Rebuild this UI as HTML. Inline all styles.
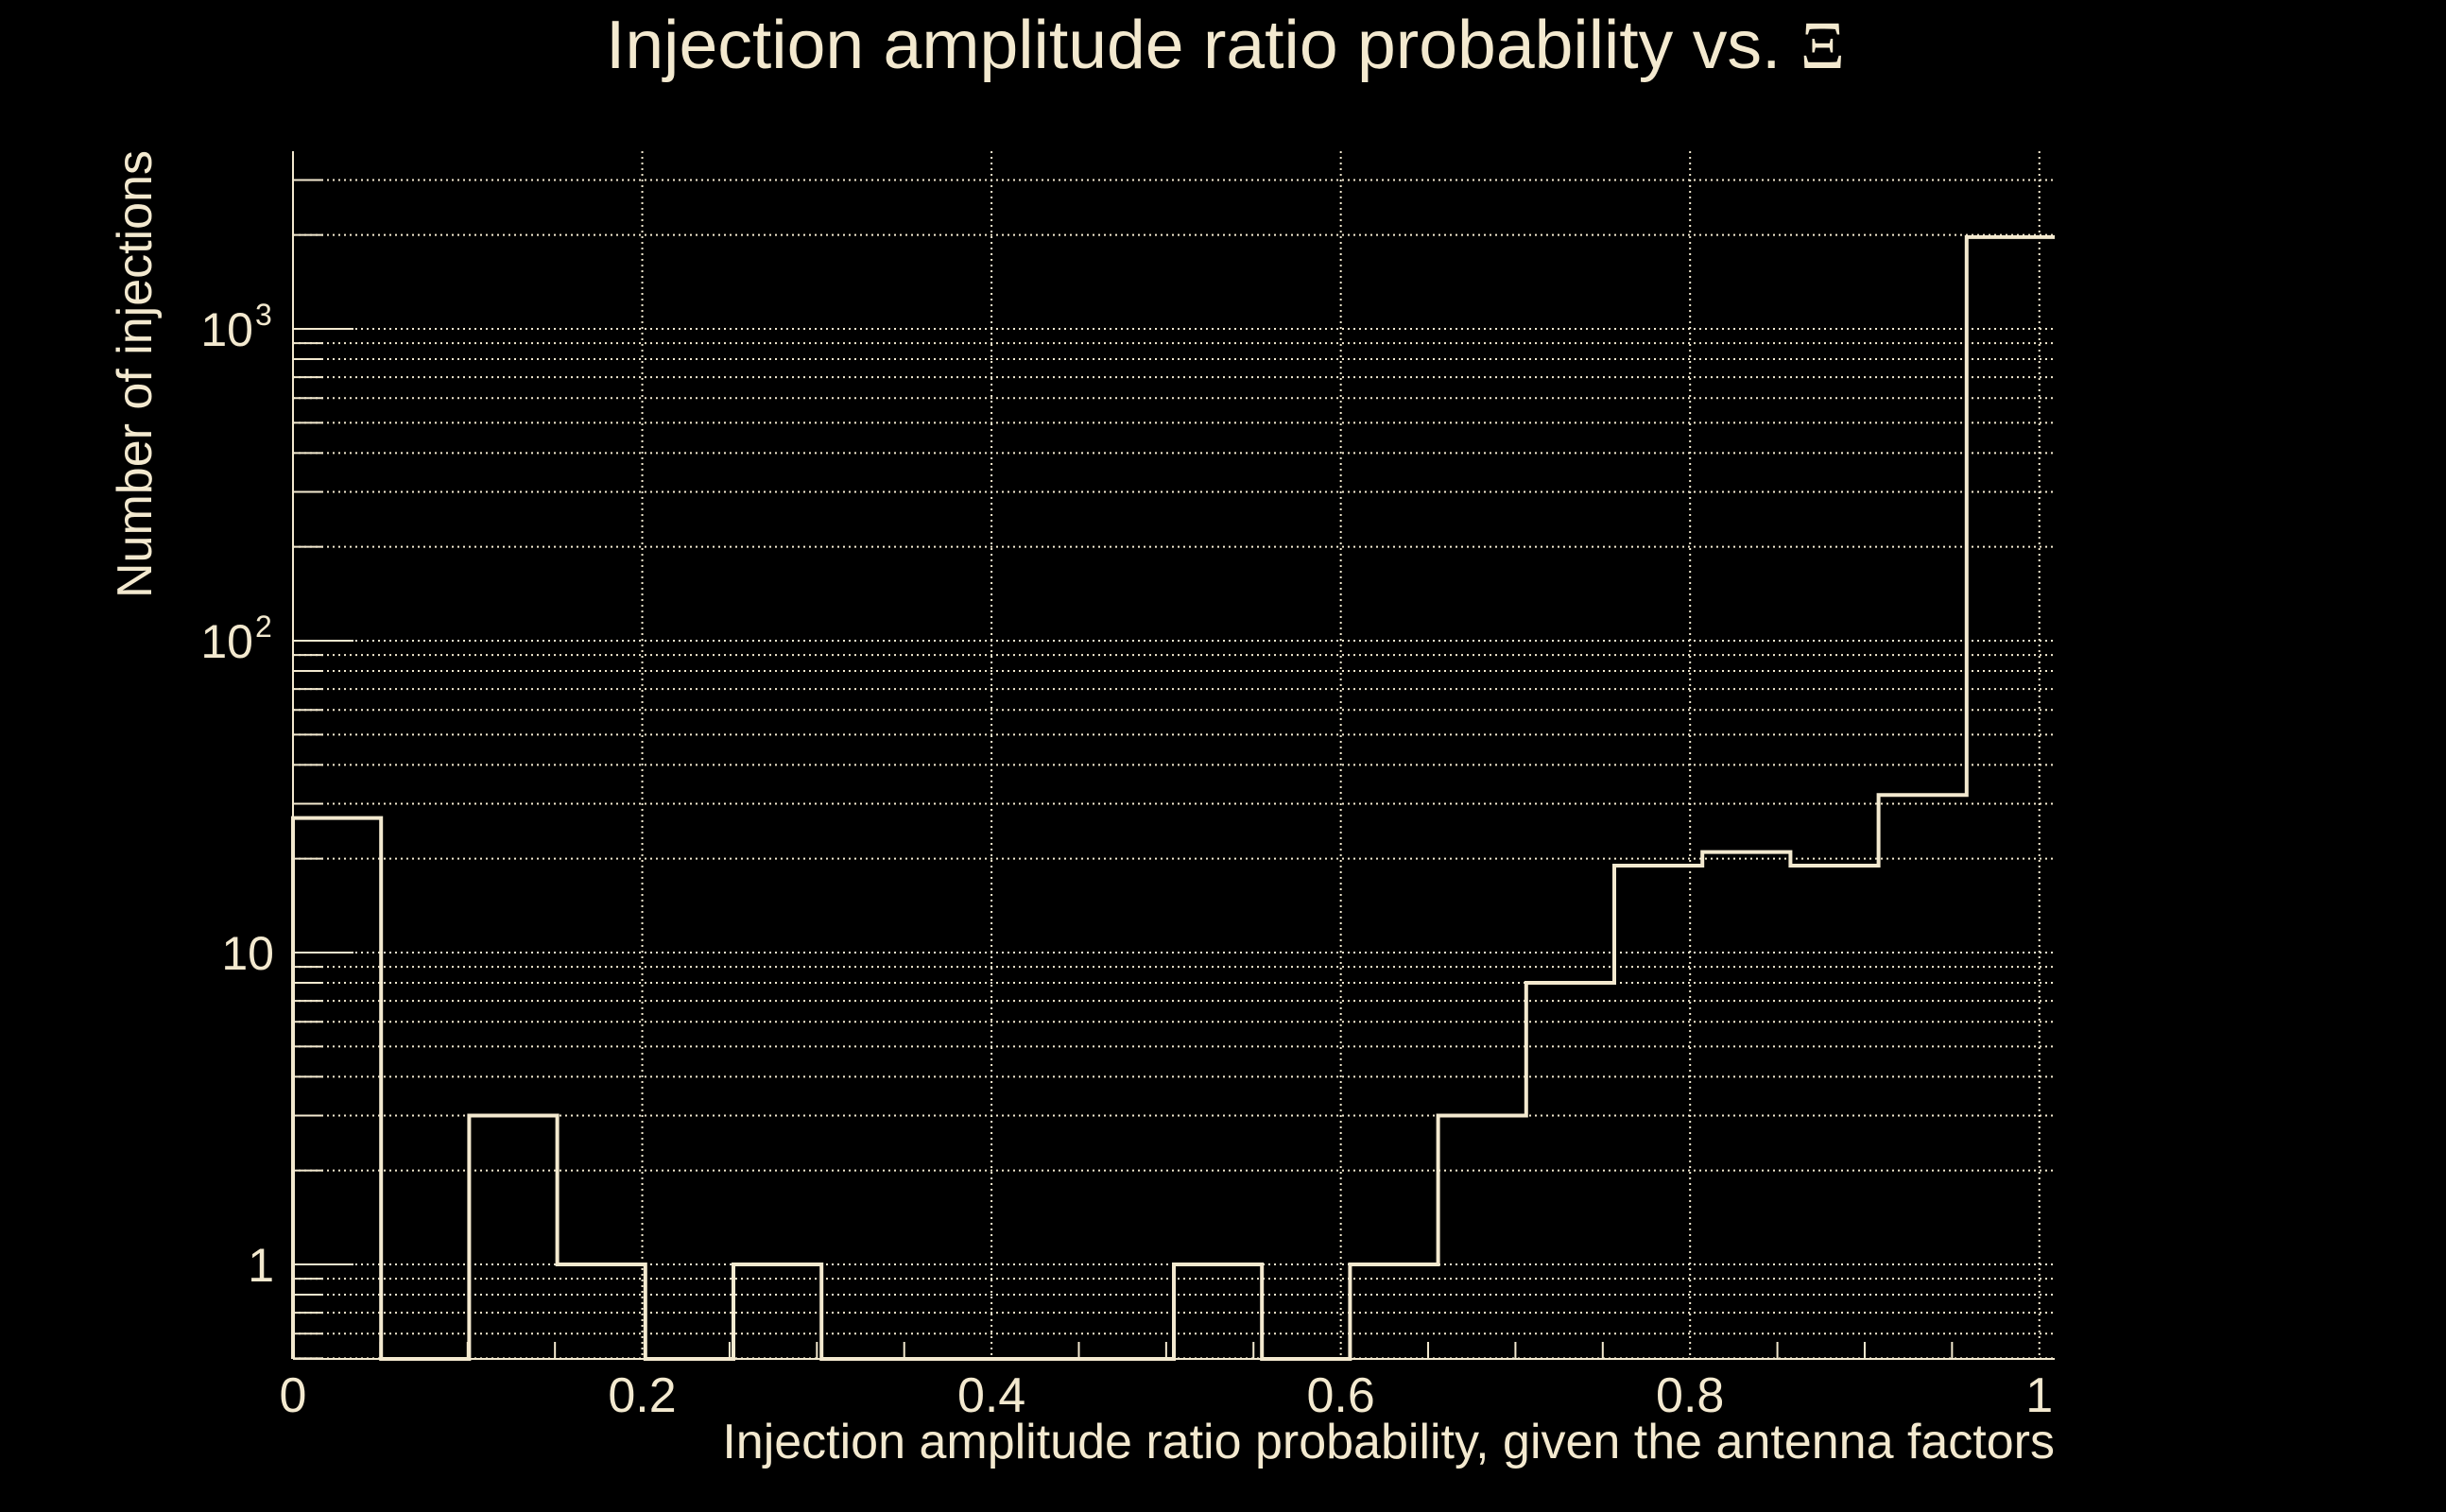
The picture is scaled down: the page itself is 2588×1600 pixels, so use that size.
<!DOCTYPE html>
<html><head><meta charset="utf-8"><style>
html,body{margin:0;padding:0;background:#000;}
svg{display:block;}
text{font-family:"Liberation Sans",sans-serif;fill:#f3e9cf;}
</style></head><body>
<svg id="chart" width="2588" height="1600" viewBox="0 0 2588 1600" xmlns="http://www.w3.org/2000/svg">
<rect width="2588" height="1600" fill="#000"/>
<g id="grid"></g>
<g id="axes"></g>
<g id="bars"></g>
<text x="641" y="72" font-size="72" textLength="1311" lengthAdjust="spacingAndGlyphs">Injection amplitude ratio probability vs.  <tspan font-family="Liberation Serif, serif">Ξ</tspan></text>
<text transform="translate(160,396) rotate(-90)" text-anchor="middle" font-size="52">Number of injections</text>
<text x="2174" y="1543" text-anchor="end" font-size="52">Injection amplitude ratio probability, given the antenna factors</text>
</svg>
<script>
const binCounts = [27,0,3,1,0,1,0,0,0,0,1,0,1,3,8,19,21,19,32,1970];
const binWidth = 0.05044;
const xTicks = [0,0.2,0.4,0.6,0.8,1];
const xTickLabels = ["0","0.2","0.4","0.6","0.8","1"];
const xMinorTicks = [0.05,0.1,0.15,0.25,0.3,0.35,0.45,0.5,0.55,0.65,0.7,0.75,0.85,0.9,0.95];
const yMajor = [1,10,100,1000];
const yMajorLabels = ["1","10","10^2","10^3"];

const NS = "http://www.w3.org/2000/svg";
const L = 310, R = 2174, T = 160, B = 1438;
const xMin = 0, xMax = 1.0088;
const yMin = 0.4967, y1px = 1338, decade = 330;
function X(v){ return L + (v - xMin) / (xMax - xMin) * (R - L); }
function Y(v){ if (v <= yMin) return B; return y1px - Math.log10(v) * decade; }
const col = "#f3e9cf";
function mk(tag, attrs, parent){ const e = document.createElementNS(NS, tag); for (const k in attrs) e.setAttribute(k, attrs[k]); parent.appendChild(e); return e; }
const grid = document.getElementById('grid'), axes = document.getElementById('axes'), bars = document.getElementById('bars');

const yGridVals = [];
[0.1,1,10,100,1000].forEach(d => { for (let m = 1; m <= 9; m++) { const v = d * m; const py = Y(v); if (v > yMin + 1e-9 && py >= T) yGridVals.push(v); } });
yGridVals.forEach(v => {
  const py = Y(v);
  const g = mk('line', {x1:L, x2:R, y1:py, y2:py, stroke:col, 'stroke-width':2, 'stroke-dasharray':'2 4'}, grid);
  
  
  const major = yMajor.some(m => Math.abs(m - v) < 1e-9);
  const t = mk('line', {x1:L, x2:L + (major ? 64 : 32), y1:py, y2:py, stroke:col, 'stroke-width':2}, axes);
  
  
});
yMajor.forEach((v, i) => {
  const py = Y(v);
  const lab = yMajorLabels[i];
  const t = mk('text', {x:290, y:py + 18, 'text-anchor':'end', 'font-size':50}, axes);
  
  
  if (lab.indexOf('^') >= 0) {
    const [b, e] = lab.split('^');
    t.setAttribute('x', 268);
    t.textContent = b;
    const s = mk('text', {x:270, y:py - 4, 'font-size':32}, axes);
    
    
    s.textContent = e;
  } else t.textContent = lab;
});
xTicks.forEach((v, i) => {
  const px = X(v);
  if (i > 0) {
    const g = mk('line', {x1:px, x2:px, y1:T, y2:B, stroke:col, 'stroke-width':2, 'stroke-dasharray':'2 4'}, grid);
    
    
  }
  const t = mk('text', {x:px, y:1494, 'text-anchor':'middle', 'font-size':52}, axes);
  
  
  t.textContent = xTickLabels[i];
});
xMinorTicks.forEach(v => {
  const px = X(v);
  const t = mk('line', {x1:px, x2:px, y1:B - 18, y2:B, stroke:col, 'stroke-width':2}, axes);
  
  
});
const la = mk('line', {x1:L, x2:L, y1:T, y2:B, stroke:col, 'stroke-width':2}, axes);


const ba = mk('line', {x1:L, x2:R, y1:B, y2:B, stroke:col, 'stroke-width':2}, axes);



let d = 'M' + X(0) + ',' + B;
binCounts.forEach((c, i) => {
  const x0 = X(i * binWidth), x1 = X((i + 1) * binWidth), py = Y(c);
  d += ' L' + x0 + ',' + py + ' L' + x1 + ',' + py;
});
const p = mk('path', {d:d, fill:'none', stroke:col, 'stroke-width':4, 'stroke-linejoin':'miter'}, bars);


</script>
</body></html>
